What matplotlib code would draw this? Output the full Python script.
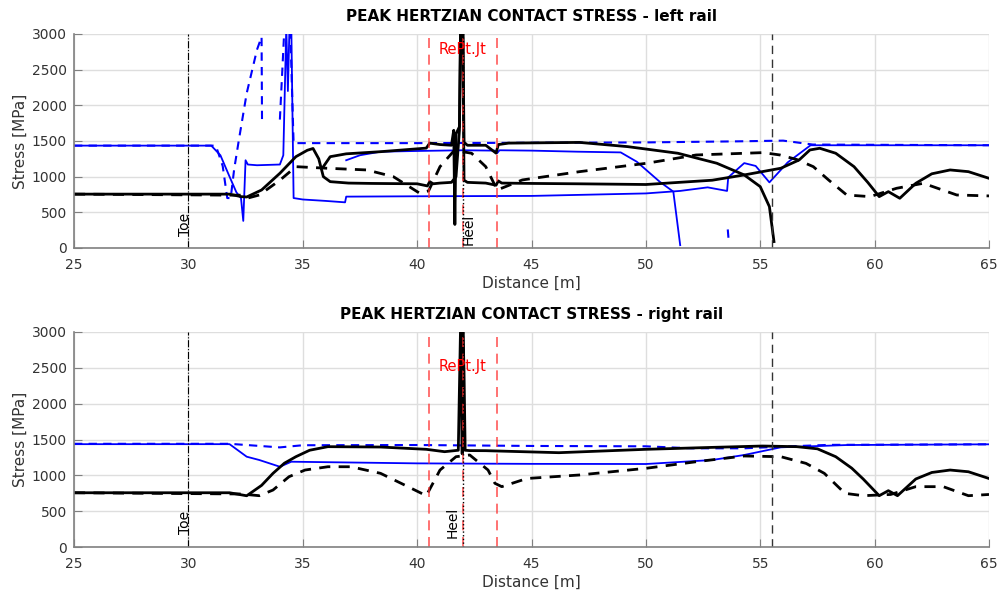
import numpy as np
import matplotlib
matplotlib.use('Agg')
import matplotlib.pyplot as plt

OUTPUT_PATH = "out.png"
nan = np.nan

# ---- left rail -------------------------------------------------------------
left_blue_x = [25, 31.0, 31.4, 31.8, 32.1, 32.3, 32.4, 32.5, 32.6, 33.0, 34.0, 34.15, 34.28,
               34.35, 34.42, 34.5, 34.6, 35.0, 36.0, 36.85, 36.9, 40, 45, 50, 51.5, 52.7,
               53.55, 53.6, 54.3, 54.8, 55.4, 56.2, 57.2, 60, 65]
left_blue_y = [1435, 1435, 1300, 1000, 780, 700, 380, 1230, 1170, 1160, 1170, 1300, 3100,
               2200, 3100, 3100, 700, 680, 660, 640, 720, 725, 730, 765, 800, 850,
               800, 990, 1190, 1150, 920, 1200, 1440, 1440, 1440]

left_blue2_x = [36.9, 37.5, 38.4, 40, 42, 43.4, 43.5, 43.6, 45, 47, 48.9, 49.6, 50.6, 51.2, 51.5]
left_blue2_y = [1230, 1300, 1350, 1360, 1370, 1365, 1330, 1370, 1365, 1350, 1340, 1210, 930, 790, 40]

left_bdash_x = [25, 31.2, 31.5, 31.7, 31.85, 32.0, 32.2, 32.55, 33.0, 33.2, 33.22, 33.3,
                34.0, 34.2, 34.45, 34.6, 36, 40, 45, 50, 54, 56, 57.3, 65]
left_bdash_y = [1435, 1435, 1150, 700, 700, 1100, 1500, 2170, 2780, 2960, 1750, nan,
                1800, 3100, 3100, 1470, 1470, 1470, 1475, 1480, 1495, 1505, 1450, 1440]

left_bfrag_x = [53.58, 53.62]
left_bfrag_y = [260, 100]

left_kA_x = [25, 31.8, 32.3, 32.55, 33.2, 34.0, 34.7, 35.2, 35.45, 35.7, 35.9, 36.2, 37, 38,
             40, 40.45, 40.55, 40.7, 41, 41.5, 41.7, 41.85, 41.9, 42.0, 42.05, 42.2, 43,
             43.45, 43.55, 43.7, 45, 47, 50, 52.9, 54.3, 55.9, 56.7, 57.17, 57.6, 58.3, 59.1,
             59.7, 60.2, 60.6, 61.1, 61.8, 62.5, 63.3, 64.1, 65]
left_kA_y = [755, 755, 720, 715, 813, 1047, 1280, 1370, 1395, 1250, 1000, 930, 910, 905,
             900, 870, 930, 900, 910, 920, 1000, 1650, 3100, 3100, 950, 920, 910,
             880, 940, 910, 905, 900, 890, 950, 1024, 1118, 1234, 1374, 1398, 1328, 1140,
             920, 720, 790, 697, 907, 1040, 1094, 1070, 977]

left_kB_x = [35.9, 36.2, 36.9, 38.4, 40.4, 40.55, 41, 41.5, 41.6, 41.65, 41.7, 41.85, 41.9,
             42.0, 42.05, 42.2, 43, 43.45, 43.55, 44, 47.1, 49.2, 51.4, 53.1, 54.3, 55.0,
             55.4, 55.6]
left_kB_y = [1140, 1280, 1320, 1350, 1400, 1470, 1450, 1440, 1650, 330, 1600, 1700, 3100,
             3100, 1480, 1440, 1440, 1330, 1450, 1470, 1480, 1421, 1328, 1188, 1024, 860,
             580, 90]

left_kdash_x = [25, 32.3, 32.6, 33.1, 34.0, 34.7, 36.05, 37.8, 38.96, 40.1, 40.5, 41.0, 41.58,
                41.8, 42.38, 43.0, 43.5, 44.6, 47.1, 50.04, 52.2, 55.13, 55.86, 56.6, 57.32,
                58.0, 58.78, 59.8, 60.96, 62.13, 63.59, 65]
left_kdash_y = [755, 740, 700, 743, 950, 1140, 1118, 1094, 1000, 770, 800, 1140, 1351,
                1360, 1328, 1140, 813, 954, 1070, 1188, 1304, 1337, 1304, 1240, 1140,
                950, 743, 720, 837, 907, 743, 730]

# ---- right rail ------------------------------------------------------------
right_blue_x = [25, 31.8, 32.55, 33.1, 34.0, 34.5, 40, 45, 50, 52.9, 54.3, 55.9, 58.8, 65]
right_blue_y = [1435, 1435, 1260, 1214, 1120, 1190, 1167, 1160, 1158, 1214, 1284, 1391, 1423, 1433]

right_bdash_x = [25, 31.8, 34.0, 35, 40, 45, 50, 52, 54.3, 55.9, 58, 65]
right_bdash_y = [1440, 1440, 1390, 1420, 1423, 1410, 1405, 1377, 1377, 1400, 1425, 1433]

right_k_x = [25, 31.8, 32.55, 33.2, 33.7, 34.2, 34.7, 35.3, 36.1, 38.4, 40.4, 41.2, 41.8,
             41.9, 41.97, 42.0, 42.05, 42.1, 42.3, 43, 46.2, 50, 52.9, 55.1, 56.6, 57.5,
             58.3, 59.0, 59.5, 60.2, 60.6, 61.0, 61.8, 62.5, 63.3, 64.1, 65]
right_k_y = [757, 757, 715, 860, 1028, 1170, 1260, 1350, 1400, 1395, 1363, 1330, 1350,
             3100, 1300, 3100, 2450, 1350, 1345, 1344, 1316, 1363, 1390, 1409, 1400, 1370,
             1260, 1100, 949, 716, 786, 716, 949, 1040, 1074, 1050, 956]

right_kdash_x = [25, 32.3, 33.1, 33.7, 34.4, 35.1, 36.1, 37.1, 38.4, 39.6, 40.4, 41.0, 41.7,
                 42.3, 43.1, 43.4, 43.7, 44.8, 47.1, 50, 52.2, 54.3, 55.9, 57.0, 57.8, 58.7,
                 59.5, 60.7, 61.8, 63, 64.1, 65]
right_kdash_y = [757, 740, 716, 795, 981, 1074, 1120, 1120, 1028, 842, 716, 1074, 1260,
                 1284, 1074, 889, 842, 956, 1005, 1098, 1190, 1270, 1260, 1167, 1028, 749,
                 716, 733, 842, 842, 716, 733]

# marker positions along the track
joint_x = [40.5, 42.0, 43.5]
toe_x = 30.0
heel_x = 42.0
end_x = 55.5

xticks = [25, 30, 35, 40, 45, 50, 55, 60, 65]
yticks = [0, 500, 1000, 1500, 2000, 2500, 3000]

GRAY = '#333333'


def dibujar_panel(ax, titulo, series, rept_y, toe_pos, heel_pos):
    for x, y, color, estilo, lw in series:
        if estilo == '--':
            ax.plot(x, y, color=color, lw=lw, dashes=(4, 3))
        else:
            ax.plot(x, y, color=color, lw=lw)

    for xj in joint_x:
        ax.axvline(xj, color='#ff3030', lw=1.2, alpha=0.8, dashes=(6, 4))
    ax.axvline(heel_x, color='k', lw=1.0, ls=':')
    ax.axvline(toe_x, color='k', lw=0.8, ls='-.')
    ax.axvline(end_x, color='#333333', lw=1.0, dashes=(6, 4))

    ax.text(42.0, rept_y, 'RePt.Jt', color='r', fontsize=10.5, ha='center', va='center')
    ax.text(toe_pos[0], toe_pos[1], 'Toe', fontsize=10, rotation=90, ha='center', va='center')
    ax.text(heel_pos[0], heel_pos[1], 'Heel', fontsize=10, rotation=90, ha='center', va='center')

    ax.set_xlim(25, 65)
    ax.set_ylim(0, 3000)
    ax.set_xticks(xticks)
    ax.set_yticks(yticks)
    ax.grid(True, color='#dedede', lw=1.0)
    ax.set_axisbelow(True)
    for lado in ['top', 'right']:
        ax.spines[lado].set_visible(False)
    for lado in ['left', 'bottom']:
        ax.spines[lado].set_color('#808080')
        ax.spines[lado].set_linewidth(1.2)
    ax.tick_params(direction='in', length=6, color='#808080', labelcolor=GRAY, labelsize=10)
    ax.tick_params(axis='x', pad=7)
    ax.tick_params(axis='y', pad=5)
    ax.set_xlabel('Distance [m]', fontsize=11, color=GRAY, labelpad=3)
    ax.set_ylabel('Stress [MPa]', fontsize=11, color=GRAY, labelpad=3)
    ax.set_title(titulo, fontsize=11, fontweight='bold', pad=9)


if __name__ == "__main__":
    plt.rcParams['font.family'] = ['DejaVu Sans']
    fig = plt.figure(figsize=(10, 5.94), dpi=100)
    ax1 = fig.add_axes([0.074, 0.5825, 0.915, 0.3603])
    ax2 = fig.add_axes([0.074, 0.0791, 0.915, 0.362])

    left_series = [
        (left_blue_x, left_blue_y, 'b', '-', 1.3),
        (left_blue2_x, left_blue2_y, 'b', '-', 1.3),
        (left_bdash_x, left_bdash_y, 'b', '--', 1.5),
        (left_bfrag_x, left_bfrag_y, 'b', '--', 1.5),
        (left_kdash_x, left_kdash_y, 'k', '--', 2.0),
        (left_kA_x, left_kA_y, 'k', '-', 2.0),
        (left_kB_x, left_kB_y, 'k', '-', 2.0),
    ]
    right_series = [
        (right_blue_x, right_blue_y, 'b', '-', 1.3),
        (right_bdash_x, right_bdash_y, 'b', '--', 1.5),
        (right_kdash_x, right_kdash_y, 'k', '--', 2.0),
        (right_k_x, right_k_y, 'k', '-', 2.0),
    ]

    dibujar_panel(ax1, 'PEAK HERTZIAN CONTACT STRESS - left rail', left_series,
                  2780, (29.87, 330), (42.25, 265))
    dibujar_panel(ax2, 'PEAK HERTZIAN CONTACT STRESS - right rail', right_series,
                  2515, (29.87, 343), (41.55, 350))

    fig.savefig(OUTPUT_PATH, dpi=100)
    print(f"Figura guardada en: {OUTPUT_PATH}")
